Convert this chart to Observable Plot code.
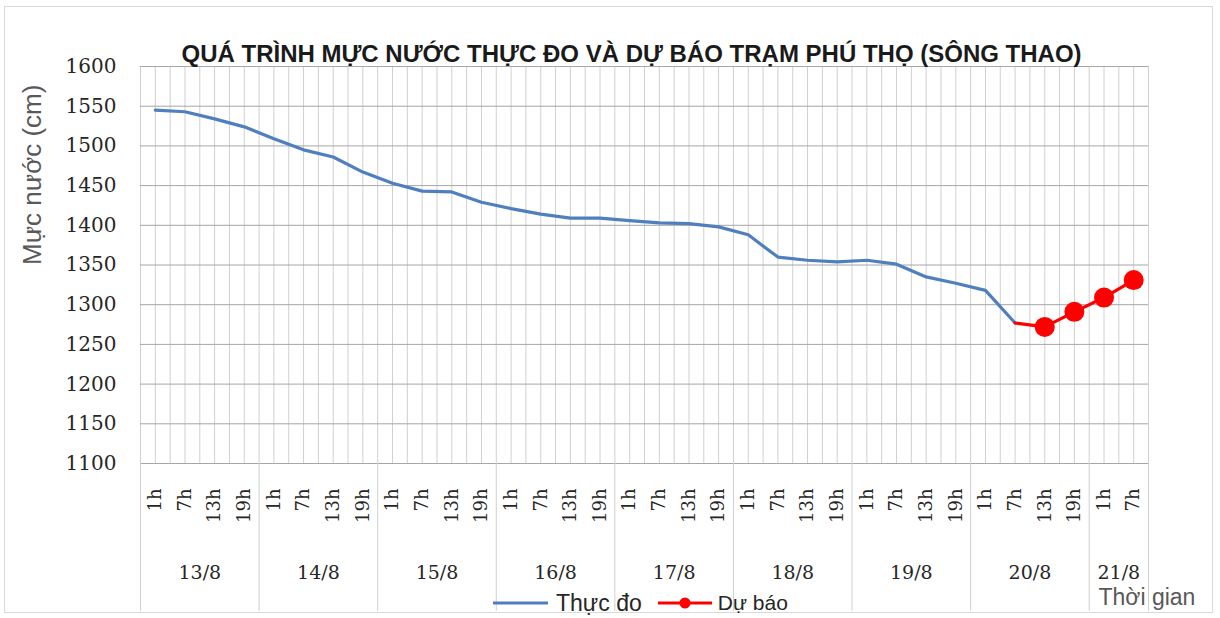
<!DOCTYPE html>
<html>
<head>
<meta charset="utf-8">
<script src="https://cdn.jsdelivr.net/npm/d3@7"></script>
<script src="https://cdn.jsdelivr.net/npm/@observablehq/plot@0.6"></script>
<style>
  html, body { margin: 0; padding: 0; background: #fff; }
  #wrap { position: relative; width: 1220px; height: 618px; overflow: hidden; }
  #border { position: absolute; left: 4px; top: 6px; width: 1209px; height: 607px; border: 1px solid #d9d9d9; box-sizing: border-box; pointer-events: none; }
  #legend { position: absolute; left: 490px; top: 590px; height: 26px; display: flex; align-items: center; font-family: "Liberation Sans", Arial, sans-serif; color: #262626; }
  #legend span { white-space: nowrap; }
  .serif text, text.serif { font-family: "DejaVu Serif", "Liberation Serif", serif; }
</style>
</head>
<body>
<div id="wrap">
  <div id="chart"></div>
  <div id="border"></div>
  <div id="legend">
    <svg width="62" height="14"><line x1="3" x2="58" y1="7" y2="7" stroke="#4f7fbf" stroke-width="3"/></svg>
    <span style="font-size:23px;margin-left:4px">Thực đo</span>
    <svg width="62" height="14" style="margin-left:12px"><line x1="4" x2="58" y1="7" y2="7" stroke="#ff0000" stroke-width="3"/><circle cx="31" cy="7" r="5.5" fill="#ff0000"/></svg>
    <span style="font-size:21px;margin-left:2px">Dự báo</span>
  </div>
</div>
<script>
const titleText = "QUÁ TRÌNH MỰC NƯỚC THỰC ĐO VÀ DỰ BÁO TRẠM PHÚ THỌ (SÔNG THAO)";
const yLabel = "Mực nước (cm)";
const xLabel = "Thời gian";
const dayLabels = ["13/8","14/8","15/8","16/8","17/8","18/8","19/8","20/8","21/8"];
const hoursPerDay = [4,4,4,4,4,4,4,4,2];
const hourLabels = ["1h","7h","13h","19h"];
const yTicks = [1100,1150,1200,1250,1300,1350,1400,1450,1500,1550,1600];
// Thực đo (observed), from 13/8 1h to 20/8 7h
const observed = [1545,1543,1534,1524,1509,1495,1486,1467,1453,1443,1442,1429,1421,1414,1409,1409,
                  1406,1403,1402,1398,1388,1360,1356,1354,1356,1351,1335,1327,1318,1277];
// Dự báo (forecast), from 20/8 7h to 21/8 7h
const forecast = [1277,1272,1291,1309,1331];

// category table
const categories = [];
const days = [];
dayLabels.forEach((d, k) => {
  const start = categories.length;
  for (let j = 0; j < hoursPerDay[k]; j++) categories.push({day: d, hour: hourLabels[j], x: categories.length + 0.5});
  days.push({label: d, start, end: categories.length, mid: (start + categories.length) / 2});
});
const nCat = categories.length;
const obsData = observed.map((v, i) => ({x: categories[i].x, v}));
const fOff = nCat - forecast.length;
const fcData = forecast.map((v, i) => ({x: categories[fOff + i].x, v}));
const boundaries = [0, ...days.map(d => d.end)];
const halfGrid = d3.range(0, nCat * 2 + 1).map(k => k / 2);

const serif = "'DejaVu Serif', 'Liberation Serif', serif";
const sans = "'Liberation Sans', Arial, sans-serif";

const chart = Plot.plot({
  width: 1220,
  height: 618,
  marginLeft: 140,
  marginRight: 72,
  marginTop: 66,
  marginBottom: 155,
  x: {domain: [0, nCat], axis: null},
  y: {domain: [1100, 1600], axis: null},
  style: {background: "transparent", overflow: "visible"},
  marks: [
    Plot.gridX(halfGrid, {stroke: "#d0d0d0", strokeOpacity: 1}),
    Plot.gridY(yTicks, {stroke: "#a6a6a6", strokeOpacity: 1}),
    Plot.ruleX(boundaries, {stroke: "#d0d0d0", insetTop: 397, insetBottom: -148}),
    Plot.text(yTicks, {y: d => d, text: d => String(d), frameAnchor: "left", textAnchor: "end", dx: -24,
      fontSize: 20, fontFamily: serif, fill: "#262626", className: "serif"}),
    Plot.text(categories, {x: "x", text: "hour", frameAnchor: "bottom", rotate: -90, textAnchor: "end", dy: 25,
      lineAnchor: "middle", fontSize: 18, fontFamily: serif, fill: "#262626", className: "serif"}),
    Plot.text(days, {x: "mid", text: "label", frameAnchor: "bottom", dy: 115, fontSize: 19, fontFamily: serif, fill: "#262626", className: "serif"}),
    Plot.text([xLabel], {frameAnchor: "bottom-right", textAnchor: "start", dx: -50, dy: 141, fontSize: 23, fontFamily: sans, fill: "#595959"}),
    Plot.text([yLabel], {frameAnchor: "left", rotate: -90, dx: -108, fontSize: 26, fontFamily: sans, fill: "#595959"}),
    Plot.text([titleText], {frameAnchor: "top", dx: -13, dy: -22, fontSize: 24, fontWeight: "bold", fontFamily: sans, fill: "#1a1a1a"}),
    Plot.line(obsData, {x: "x", y: "v", stroke: "#4f7fbf", strokeWidth: 3.2}),
    Plot.line(fcData, {x: "x", y: "v", stroke: "#ff0000", strokeWidth: 3.2}),
    Plot.dot(fcData.slice(1), {x: "x", y: "v", r: 10, fill: "#ff0000"})
  ]
});
document.getElementById("chart").appendChild(chart);
</script>
</body>
</html>
